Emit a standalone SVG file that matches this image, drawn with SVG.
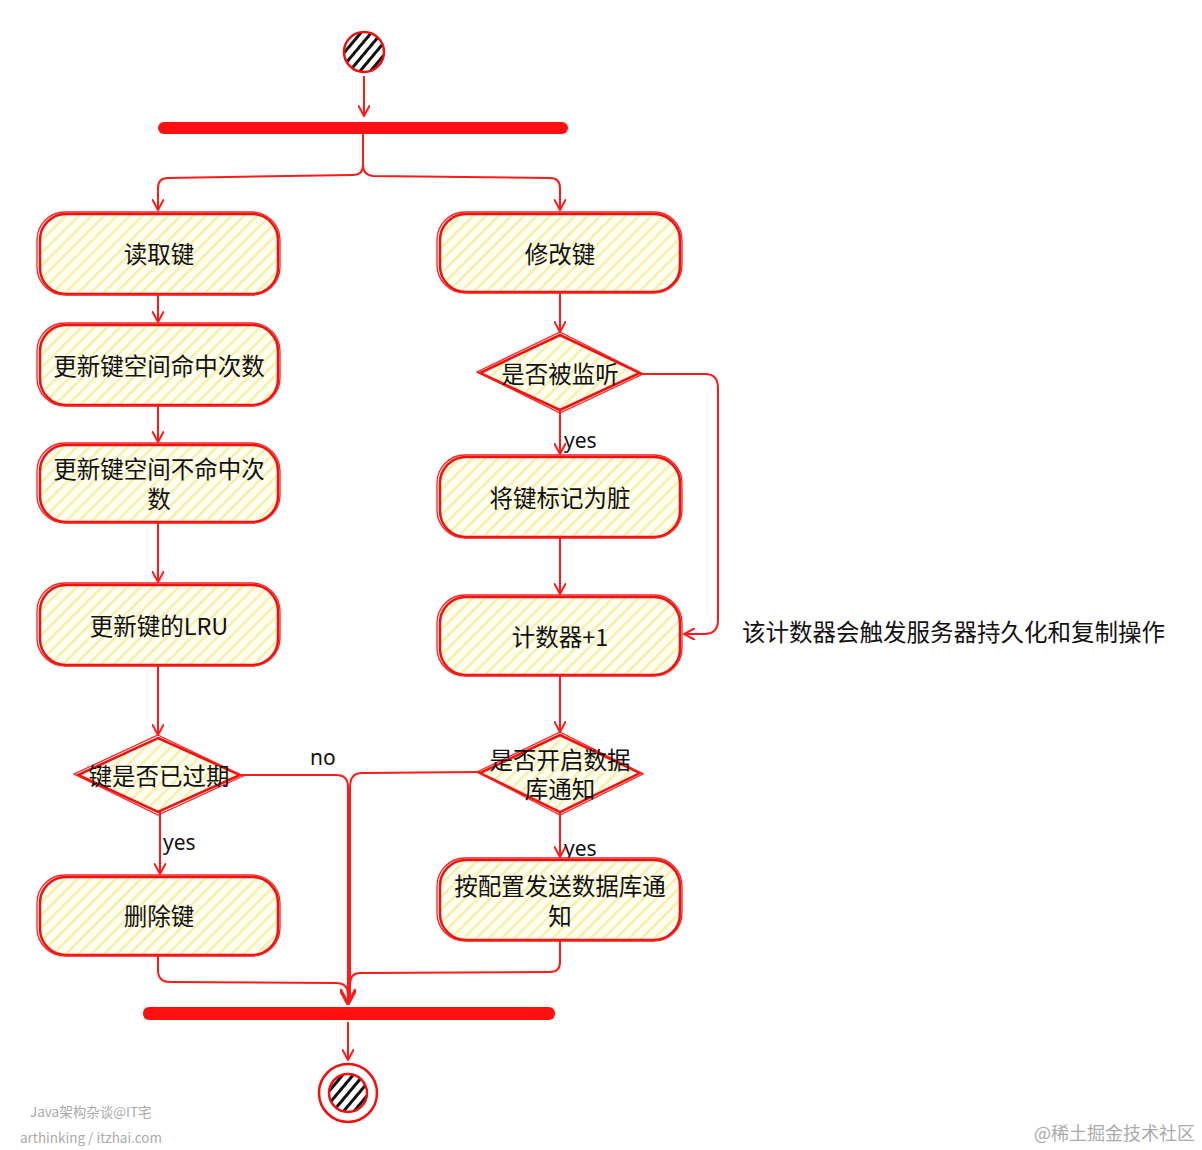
<svg xmlns="http://www.w3.org/2000/svg" width="1202" height="1150" viewBox="0 0 1202 1150">
<defs>
<pattern id="hatch" patternUnits="userSpaceOnUse" width="9" height="9" patternTransform="rotate(45)">
<rect width="9" height="9" fill="#fffef2"/>
<rect width="2.5" height="9" fill="#f6f0a6"/>
</pattern>
<pattern id="bhatch" patternUnits="userSpaceOnUse" width="8" height="8" patternTransform="rotate(40)">
<rect width="8" height="8" fill="#fff"/>
<rect width="3" height="8" fill="#111"/>
</pattern>
<marker id="arr" viewBox="0 0 12 12" refX="11" refY="6" markerWidth="12" markerHeight="12" markerUnits="userSpaceOnUse" orient="auto">
<path d="M0,0 L11,6 L0,12" fill="none" stroke="#ff1a1a" stroke-width="2"/>
</marker>
<marker id="arrB" viewBox="0 0 14 14" refX="13" refY="7" markerWidth="16" markerHeight="16" markerUnits="userSpaceOnUse" orient="auto">
<path d="M0,0 L13,7 L0,14" fill="none" stroke="#ff1a1a" stroke-width="3"/>
</marker>
</defs>
<style>
.box{fill:url(#hatch);stroke:#f01010;stroke-width:2.5}
.box2{fill:none;stroke:#ff2020;stroke-width:1.3}
.lbl{font-family:"Noto Sans CJK SC","Noto Sans",sans-serif;font-size:23.5px;fill:#111;text-anchor:middle}
.sm{font-family:"Noto Sans","Liberation Sans",sans-serif;font-size:21px;fill:#111}
.con{fill:none;stroke:#ff1a1a;stroke-width:2}
.bar{fill:#ff1010}
.wm{font-family:"Noto Sans CJK SC","Noto Sans",sans-serif;fill:#aaa}
</style>
<rect width="1202" height="1150" fill="#fff"/>

<g id="connectors">
<path class="con" d="M364,76 L364,116" marker-end="url(#arr)"/>
<path class="con" d="M363,134 L363,165 Q363,175 353,175 L168,178 Q158,178 158,188 L158,210" marker-end="url(#arr)"/>
<path class="con" d="M363,165 Q363,175 373,176 L550,178 Q560,178 560,188 L560,210" marker-end="url(#arr)"/>
<path class="con" d="M158,294 L158,322" marker-end="url(#arr)"/>
<path class="con" d="M158,405 L158,442" marker-end="url(#arr)"/>
<path class="con" d="M158,522 L158,582" marker-end="url(#arr)"/>
<path class="con" d="M158,665 L158,735" marker-end="url(#arr)"/>
<path class="con" d="M160,812 L160,874" marker-end="url(#arr)"/>
<path class="con" d="M560,292 L560,332" marker-end="url(#arr)"/>
<path class="con" d="M560,410 L560,454" marker-end="url(#arr)"/>
<path class="con" d="M560,537 L560,594" marker-end="url(#arr)"/>
<path class="con" d="M560,675 L560,732" marker-end="url(#arr)"/>
<path class="con" d="M560,812 L560,857" marker-end="url(#arr)"/>
<path class="con" d="M640,374 L705,374 Q718,374 718,388 L718,620 Q718,634 704,634 L684,634" marker-end="url(#arr)"/>
<path class="con" d="M240,775 L336,775 Q348,775 348,787 L348,1004" stroke-width="3" marker-end="url(#arrB)"/>
<path class="con" d="M480,772 L362,773 Q350,773 350,787 L350,1000"/>
<path class="con" d="M158,955 L158,970 Q158,982 170,982 L336,983 Q348,983 348,995"/>
<path class="con" d="M560,940 L560,962 Q560,972 550,972 L360,973 Q350,973 350,985"/>
<path class="con" d="M348,1022 L348,1060" marker-end="url(#arr)"/>
<text class="sm" x="310" y="765">no</text>
<text class="sm" x="163" y="850">yes</text>
<text class="sm" x="564" y="448">yes</text>
<text class="sm" x="564" y="856">yes</text>
</g>

<g id="start">
<circle cx="364" cy="52" r="20" fill="url(#bhatch)" stroke="#f01010" stroke-width="2.5"/>
</g>
<g id="fork">
<rect class="bar" x="158" y="122" width="410" height="12" rx="6"/>
</g>

<g id="n1"><rect class="box" x="40" y="214" width="238" height="80" rx="26"/><rect class="box2" x="37" y="212" width="243" height="83" rx="28"/><text class="lbl" x="159" y="263">读取键</text></g>
<g id="n2"><rect class="box" x="40" y="325" width="238" height="80" rx="26"/><rect class="box2" x="37" y="323" width="243" height="83" rx="28"/><text class="lbl" x="159" y="375">更新键空间命中次数</text></g>
<g id="n3"><rect class="box" x="40" y="445" width="238" height="77" rx="26"/><rect class="box2" x="37" y="443" width="243" height="80" rx="28"/><text class="lbl" x="159" y="478">更新键空间不命中次<tspan x="159" dy="30">数</tspan></text></g>
<g id="n4"><rect class="box" x="40" y="585" width="238" height="80" rx="26"/><rect class="box2" x="37" y="583" width="243" height="83" rx="28"/><text class="lbl" x="159" y="635">更新键的LRU</text></g>
<g id="d1"><path class="box" d="M158,738 L240,775 L158,812 L78,775 Z"/><path class="box2" d="M158,735 L243,776 L158,815 L74,774 Z"/><text class="lbl" x="159" y="785">键是否已过期</text></g>
<g id="n5"><rect class="box" x="40" y="877" width="238" height="78" rx="26"/><rect class="box2" x="37" y="875" width="243" height="81" rx="28"/><text class="lbl" x="159" y="925">删除键</text></g>

<g id="m1"><rect class="box" x="440" y="214" width="240" height="78" rx="26"/><rect class="box2" x="437" y="212" width="245" height="81" rx="28"/><text class="lbl" x="560" y="263">修改键</text></g>
<g id="d2"><path class="box" d="M560,335 L640,373 L560,410 L480,373 Z"/><path class="box2" d="M560,332 L643,374 L560,413 L477,372 Z"/><text class="lbl" x="560" y="383">是否被监听</text></g>
<g id="m2"><rect class="box" x="440" y="457" width="240" height="80" rx="26"/><rect class="box2" x="437" y="455" width="245" height="83" rx="28"/><text class="lbl" x="560" y="507">将键标记为脏</text></g>
<g id="m3"><rect class="box" x="440" y="597" width="240" height="78" rx="26"/><rect class="box2" x="437" y="595" width="245" height="81" rx="28"/><text class="lbl" x="560" y="646">计数器+1</text></g>
<g id="note"><text class="lbl" x="742" y="641" style="text-anchor:start">该计数器会触发服务器持久化和复制操作</text></g>
<g id="d3"><path class="box" d="M560,735 L640,773 L560,812 L480,773 Z"/><path class="box2" d="M560,732 L643,774 L560,815 L477,772 Z"/><text class="lbl" x="560" y="769">是否开启数据<tspan x="560" dy="29">库通知</tspan></text></g>
<g id="m4"><rect class="box" x="440" y="860" width="240" height="80" rx="26"/><rect class="box2" x="437" y="858" width="245" height="83" rx="28"/><text class="lbl" x="560" y="895">按配置发送数据库通<tspan x="560" dy="30">知</tspan></text></g>

<g id="join">
<rect class="bar" x="143" y="1007" width="412" height="13" rx="6"/>
</g>
<g id="end">
<circle cx="348" cy="1093" r="29" fill="none" stroke="#f01010" stroke-width="2.5"/>
<circle cx="348" cy="1093" r="19" fill="url(#bhatch)" stroke="#f01010" stroke-width="2.5"/>
</g>

<text class="wm" x="30" y="1117" font-size="13.5">Java架构杂谈@IT宅</text>
<text class="wm" x="20" y="1143" font-size="13.5">arthinking / itzhai.com</text>
<text class="wm" x="1195" y="1140" font-size="18" text-anchor="end">@稀土掘金技术社区</text>
</svg>
